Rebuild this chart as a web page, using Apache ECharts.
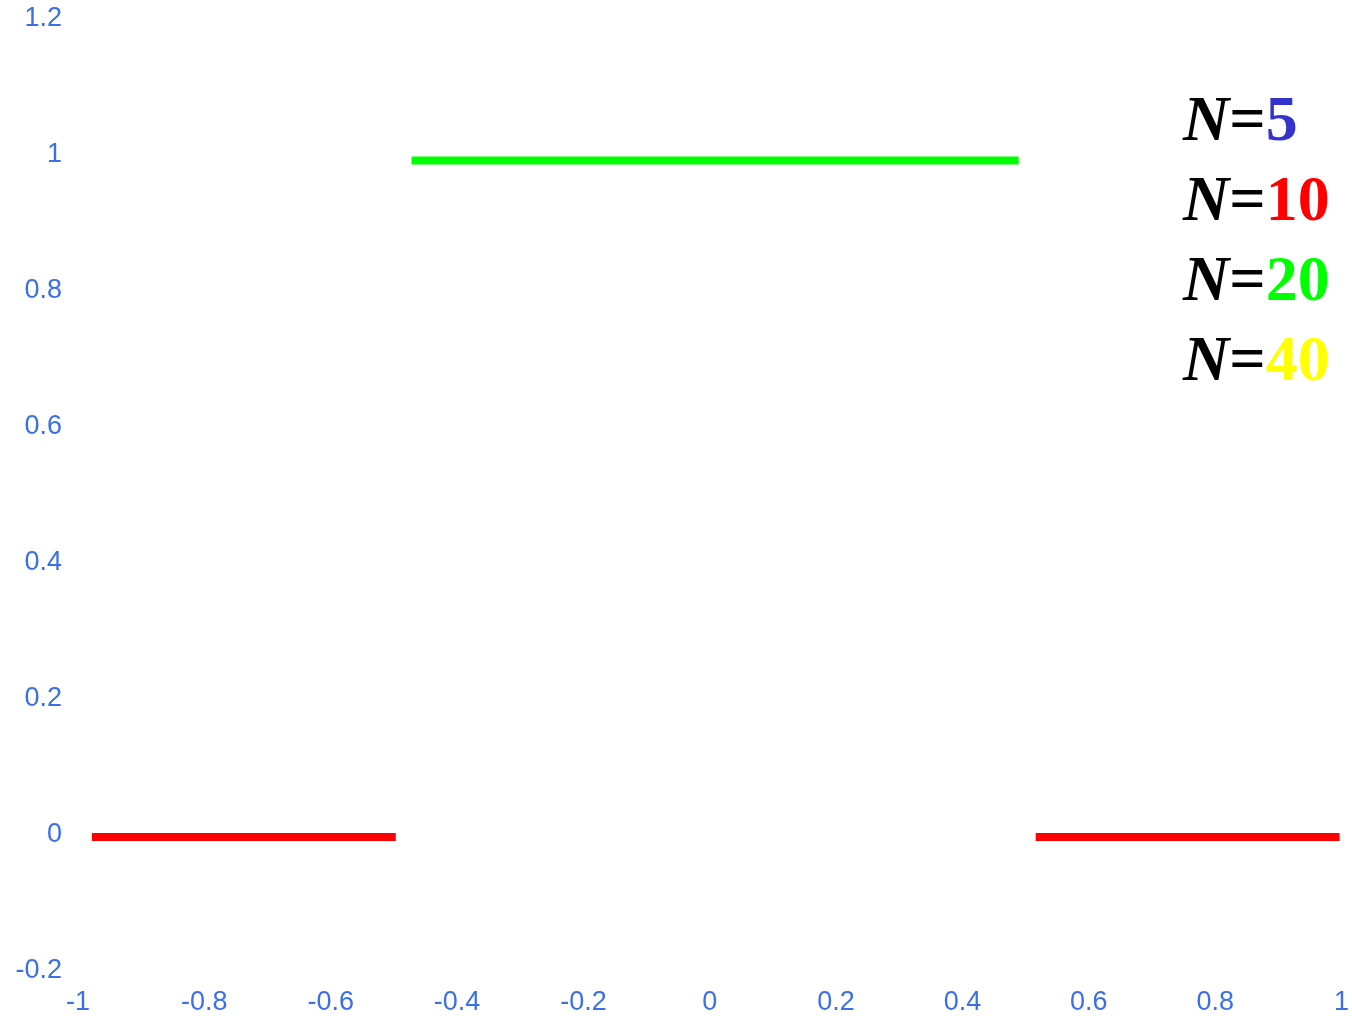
<!DOCTYPE html>
<html>
<head>
<meta charset="utf-8">
<script src="https://cdn.jsdelivr.net/npm/echarts@6/dist/echarts.min.js"></script>
<style>html,body{margin:0;padding:0;background:#fff}#c{width:1352px;height:1016px}</style>
</head>
<body>
<div id="c"></div>
<script>
// Data
const xTicks = [-1, -0.8, -0.6, -0.4, -0.2, 0, 0.2, 0.4, 0.6, 0.8, 1];
const yTicks = [-0.2, 0, 0.2, 0.4, 0.6, 0.8, 1, 1.2];
const redX = [-0.978, -0.497, null, 0.516, 0.997];
const redY = [-0.003, -0.003, null, -0.003, -0.003];
const greenX = [-0.472, 0.489];
const greenY = [0.992, 0.992];
const legendN = ['5', '10', '20', '40'];
const legendColors = ['#3333cc', '#ff0000', '#00ff00', '#ffff00'];

const pts = (xs, ys) => xs.map((x, i) => (x === null ? [null, null] : [x, ys[i]]));

const chart = echarts.init(document.getElementById('c'));
const labelColor = '#3b6fe8';
const legendGraphics = legendN.map((n, i) => ({
  type: 'text',
  left: 1183,
  top: 91 + i * 80,
  style: {
    text: '{n|N}{e|=}{v|' + n + '}',
    rich: {
      n: { fontFamily: 'Liberation Serif', fontStyle: 'italic', fontWeight: 'bold', fontSize: 64, fill: '#000' },
      e: { fontFamily: 'Liberation Serif', fontWeight: 'bold', fontSize: 64, fill: '#000' },
      v: { fontFamily: 'Liberation Serif', fontWeight: 'bold', fontSize: 64, fill: legendColors[i] }
    }
  }
}));

chart.setOption({
  animation: false,
  backgroundColor: '#fff',
  grid: { left: 78, right: 10, top: 19, bottom: 44, containLabel: false },
  xAxis: {
    type: 'value', min: -1, max: 1, interval: 0.2,
    axisLine: { show: false }, axisTick: { show: false }, splitLine: { show: false },
    axisLabel: { color: labelColor, fontSize: 27, fontFamily: 'Liberation Sans', margin: 18,
      formatter: v => String(Math.round(v * 10) / 10), showMinLabel: true, showMaxLabel: true }
  },
  yAxis: {
    type: 'value', min: -0.2, max: 1.2, interval: 0.2,
    axisLine: { show: false }, axisTick: { show: false }, splitLine: { show: false },
    axisLabel: { color: labelColor, fontSize: 27, fontFamily: 'Liberation Sans', margin: 16,
      formatter: v => String(Math.round(v * 10) / 10) }
  },
  series: [
    { type: 'line', data: pts(redX, redY), showSymbol: false, connectNulls: false,
      lineStyle: { color: '#ff0000', width: 8, cap: 'butt' } },
    { type: 'line', data: pts(greenX, greenY), showSymbol: false,
      lineStyle: { color: '#00ff00', width: 8, cap: 'butt' } }
  ],
  graphic: legendGraphics
});
</script>
</body>
</html>
